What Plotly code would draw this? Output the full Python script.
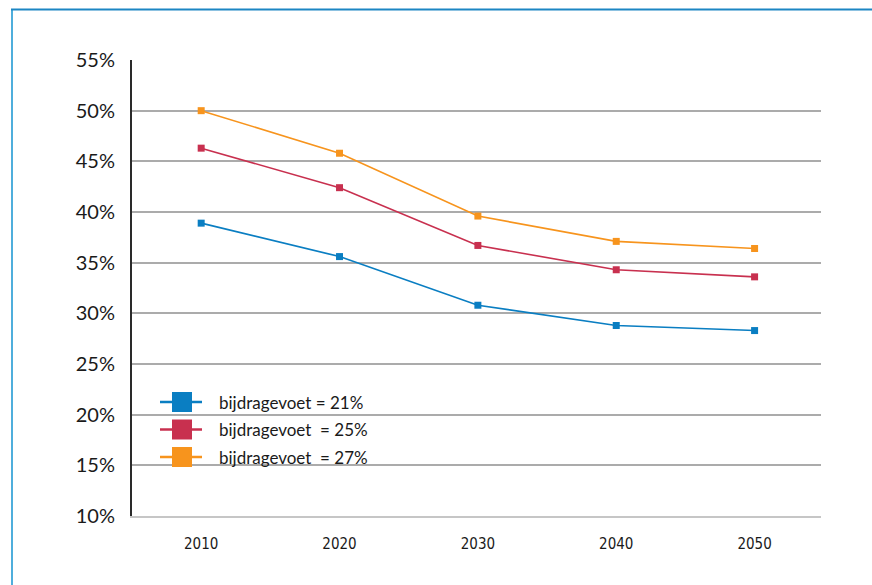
import plotly.graph_objects as go

# Years on the horizontal axis
years = [2010, 2020, 2030, 2040, 2050]

# Share (%) per contribution rate scenario
rate_21 = [38.9, 35.6, 30.8, 28.8, 28.3]
rate_25 = [46.3, 42.4, 36.7, 34.3, 33.6]
rate_27 = [50.0, 45.8, 39.6, 37.1, 36.4]

series_names = ["bijdragevoet = 21%", "bijdragevoet\u00a0 = 25%", "bijdragevoet\u00a0 = 27%"]
series_colors = ["#0A7EC2", "#C8304F", "#F7941D"]

y_ticks = [10, 15, 20, 25, 30, 35, 40, 45, 50, 55]
y_tick_text = [f"{v}%" for v in y_ticks]

W, H = 872, 585
ML, MR, MT, MB = 132, 51, 60, 69
PW, PH = W - ML - MR, H - MT - MB


def px_x(x):
    return (x - ML) / PW


def px_y(y):
    return (H - MB - y) / PH


fig = go.Figure()
for name, vals, col in zip(series_names, [rate_21, rate_25, rate_27], series_colors):
    fig.add_trace(go.Scatter(
        x=years, y=vals, name=name, mode="lines+markers",
        line=dict(color=col, width=1.6),
        marker=dict(symbol="square", size=7, color=col),
        showlegend=False,
    ))

shapes = []
annotations = []

# Hand-placed legend block: short line with a large square, then the label
legend_rows = [402, 429.5, 457]
for name, col, ry in zip(series_names, series_colors, legend_rows):
    shapes.append(dict(type="line", xref="paper", yref="paper",
                       x0=px_x(160), x1=px_x(202), y0=px_y(ry), y1=px_y(ry),
                       line=dict(color=col, width=2.5), layer="above"))
    shapes.append(dict(type="rect", xref="paper", yref="paper",
                       x0=px_x(172), x1=px_x(192), y0=px_y(ry - 10), y1=px_y(ry + 10),
                       fillcolor=col, line=dict(width=0), layer="above"))
    annotations.append(dict(text=name, xref="paper", yref="paper",
                            x=px_x(217), y=px_y(ry), xanchor="left", yanchor="middle",
                            showarrow=False,
                            font=dict(family="Lato, Open Sans, sans-serif", size=17, color="#1a1a1a")))

# Outer frame: left and top edges
shapes.append(dict(type="line", xref="paper", yref="paper",
                   x0=px_x(12), x1=px_x(12), y0=px_y(9), y1=px_y(600),
                   line=dict(color="#4FAEDC", width=2), layer="above"))
shapes.append(dict(type="line", xref="paper", yref="paper",
                   x0=px_x(11), x1=px_x(900), y0=px_y(9.5), y1=px_y(9.5),
                   line=dict(color="#1C86C3", width=2), layer="above"))

fig.update_layout(
    width=W, height=H,
    margin=dict(l=ML, r=MR, t=MT, b=MB),
    paper_bgcolor="white", plot_bgcolor="white",
    shapes=shapes, annotations=annotations,
    showlegend=False,
)

fig.update_xaxes(
    range=[2005, 2054.8], tickvals=years, ticktext=[str(y) for y in years],
    showgrid=False, zeroline=False,
    showline=True, linecolor="#C6C6C6", linewidth=2,
    ticks="", ticklabelstandoff=13,
    tickfont=dict(family="Liberation Sans Narrow, DejaVu Sans Condensed, sans-serif", size=15, color="#1a1a1a"),
)
fig.update_yaxes(
    range=[10, 55], tickvals=y_ticks, ticktext=y_tick_text,
    showgrid=True, gridcolor="#ABABAB", gridwidth=1.5,
    zeroline=False,
    showline=True, linecolor="#2a2a2a", linewidth=2,
    ticks="", ticklabelstandoff=11,
    tickfont=dict(family="Lato, Open Sans, sans-serif", size=20, color="#1a1a1a"),
)

fig.write_html("out.html")
